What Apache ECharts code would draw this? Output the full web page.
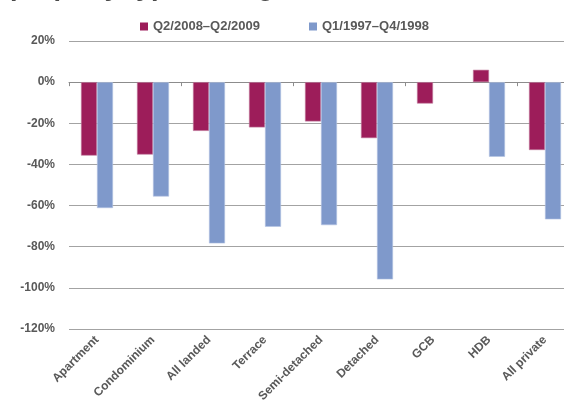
<!DOCTYPE html>
<html>
<head>
<meta charset="utf-8">
<script src="https://cdn.jsdelivr.net/npm/echarts@6/dist/echarts.min.js"></script>
<style>
  html, body { margin: 0; padding: 0; background: #ffffff; overflow: hidden; }
  /* the drawing is a bit wider than the window so the last column runs off the edge */
  #chart { width: 574px; height: 410px; }
</style>
</head>
<body>
<div id="chart"></div>
<script>
// Property types on the category axis
const categories = ['Apartment', 'Condominium', 'All landed', 'Terrace', 'Semi-detached', 'Detached', 'GCB', 'HDB', 'All private'];

// Price change (%) in each downturn
const seriesNames = ['Q2/2008\u2013Q2/2009', 'Q1/1997\u2013Q4/1998'];
const downturn2008 = [-35.7, -35.2, -23.7, -22, -19.1, -27.2, -10.4, 6, -33];
const downturn1997 = [-61.2, -55.6, -78.4, -70.3, -69.5, -95.9, null, -36.3, -66.7];

// Value axis ticks
const yMin = -120, yMax = 20, yStep = 20;

const gray = '#595959';
const lineGray = '#a3a3a3';
const font = '"Liberation Sans", Arial, Helvetica, sans-serif';

const chart = echarts.init(document.getElementById('chart'), null, { renderer: 'canvas' });

chart.setOption({
  animation: false,
  backgroundColor: '#ffffff',
  // heading sits mostly above the top edge; only its descenders show
  graphic: [{
    type: 'text',
    left: 10,
    top: -26,
    style: {
      text: 'property type during the two downturns',
      font: 'bold 27px ' + font,
      fill: '#4a4a4a'
    }
  }],
  legend: {
    data: seriesNames,
    left: 140,
    top: 20,
    padding: 0,
    itemWidth: 8,
    itemHeight: 8,
    itemGap: 49,
    icon: 'rect',
    itemStyle: { borderWidth: 0 },
    textStyle: { fontFamily: font, fontSize: 13, fontWeight: 'bold', color: gray }
  },
  grid: { left: 69, right: 1, top: 41, bottom: 81, containLabel: false },
  xAxis: [
    {
      type: 'category',
      data: categories,
      axisLine: { onZero: true, lineStyle: { color: '#8c8c8c', width: 1 } },
      axisTick: { show: true, length: 4, lineStyle: { color: '#8c8c8c' } },
      axisLabel: { show: false },
      splitLine: { show: false }
    },
    {
      type: 'category',
      data: categories,
      position: 'bottom',
      axisLine: { show: false, onZero: false },
      axisTick: { show: false },
      axisLabel: {
        rotate: 45,
        margin: 9,
        interval: 0,
        fontFamily: font,
        fontSize: 12,
        fontWeight: 'bold',
        color: gray
      }
    }
  ],
  yAxis: {
    type: 'value',
    min: yMin,
    max: yMax,
    interval: yStep,
    axisLine: { show: false },
    axisTick: { show: false },
    axisLabel: {
      margin: 14,
      fontFamily: font,
      fontSize: 12,
      fontWeight: 'bold',
      color: gray,
      formatter: v => v + '%'
    },
    splitLine: { lineStyle: { color: lineGray, width: 1 } }
  },
  series: [
    {
      name: seriesNames[0],
      type: 'bar',
      xAxisIndex: 0,
      data: downturn2008,
      barWidth: 16,
      barGap: '0%',
      itemStyle: { color: '#9d1d5a', borderColor: '#c07a9c', borderWidth: 0.6 }
    },
    {
      name: seriesNames[1],
      type: 'bar',
      xAxisIndex: 0,
      data: downturn1997,
      barWidth: 16,
      barGap: '0%',
      itemStyle: { color: '#7f99cb', borderColor: '#b3c3e2', borderWidth: 0.6 }
    }
  ]
});
</script>
</body>
</html>
